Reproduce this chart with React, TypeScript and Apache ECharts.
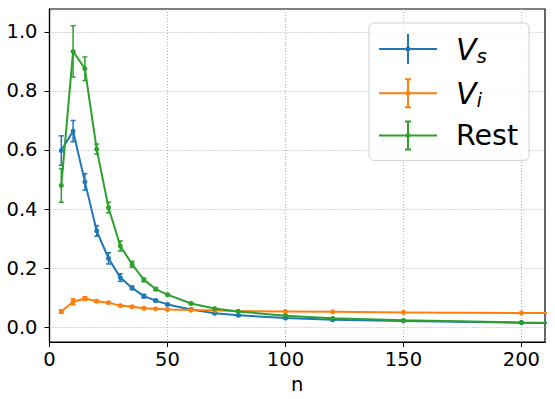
import { useEffect, useRef } from 'react';
import * as echarts from 'echarts';

const nValues = [5, 10, 15, 20, 25, 30, 35, 40, 45, 50, 60, 70, 80, 100, 120, 150, 200, 250];
const vsMean = [0.598, 0.664, 0.492, 0.326, 0.233, 0.168, 0.133, 0.105, 0.09, 0.077, 0.06, 0.047, 0.04, 0.031, 0.025, 0.021, 0.015, 0.011];
const vsErr = [0.05, 0.036, 0.028, 0.018, 0.019, 0.013, 0.006, 0.006, 0.004, 0.003, 0.003, 0.002, 0.002, 0.002, 0.002, 0.001, 0.001, 0.001];
const viMean = [0.053, 0.086, 0.097, 0.088, 0.083, 0.073, 0.069, 0.064, 0.062, 0.06, 0.058, 0.057, 0.054, 0.053, 0.052, 0.05, 0.048, 0.046];
const viErr = [0.006, 0.01, 0.006, 0.004, 0.003, 0.003, 0.003, 0.002, 0.002, 0.002, 0.002, 0.002, 0.001, 0.001, 0.001, 0.001, 0.001, 0.001];
const restMean = [0.48, 0.934, 0.875, 0.603, 0.405, 0.275, 0.213, 0.16, 0.129, 0.11, 0.08, 0.063, 0.053, 0.039, 0.03, 0.023, 0.016, 0.013];
const restErr = [0.057, 0.087, 0.04, 0.017, 0.018, 0.017, 0.01, 0.006, 0.005, 0.003, 0.003, 0.002, 0.002, 0.002, 0.001, 0.001, 0.001, 0.001];
const seriesNames = ['Vs', 'Vi', 'Rest'];
const colors = ['#1f77b4', '#ff7f0e', '#2ca02c'];
const xTicks = [0, 50, 100, 150, 200];
const yTicks = [0, 0.2, 0.4, 0.6, 0.8, 1.0];

const FONT = 'DejaVu Sans';
const TICK_FS = 19.5;

const iconNoCap = 'path://M0,14 h58 v2 h-58 z M28,0 h2 v30 h-2 z M27,13 h4 v4 h-4 z';
const iconCap = 'path://M0,14 h58 v2 h-58 z M28,1 h2 v28 h-2 z M26,0 h6 v2 h-6 z M26,28 h6 v2 h-6 z M27,13 h4 v4 h-4 z';

export default function App() {
  const ref = useRef<HTMLDivElement>(null);
  useEffect(() => {
    if (!ref.current) return;
    const chart = echarts.init(ref.current, undefined, { renderer: 'svg' });
    const means = [vsMean, viMean, restMean];
    const errs = [vsErr, viErr, restErr];
    const series: any[] = [];
    seriesNames.forEach((name, i) => {
      const color = colors[i];
      series.push({
        name,
        type: 'line',
        data: nValues.map((n, k) => [n, means[i][k]]),
        symbol: 'circle',
        symbolSize: 5,
        showSymbol: true,
        clip: true,
        lineStyle: { color, width: 2 },
        itemStyle: { color },
        emphasis: { disabled: true },
        z: 2 + i * 2,
      });
      series.push({
        name: name + ' err',
        type: 'custom',
        clip: true,
        data: nValues.map((n, k) => [n, means[i][k] - errs[i][k], means[i][k] + errs[i][k]]),
        renderItem: (params: any, api: any) => {
          const x = api.value(0);
          const top = api.coord([x, api.value(2)]);
          const bot = api.coord([x, api.value(1)]);
          const cw = 2.5;
          const style = { stroke: color, lineWidth: 1.5 };
          return {
            type: 'group',
            children: [
              { type: 'line', shape: { x1: top[0], y1: top[1], x2: bot[0], y2: bot[1] }, style },
              { type: 'line', shape: { x1: top[0] - cw, y1: top[1], x2: top[0] + cw, y2: top[1] }, style },
              { type: 'line', shape: { x1: bot[0] - cw, y1: bot[1], x2: bot[0] + cw, y2: bot[1] }, style },
            ],
          };
        },
        z: 3 + i * 2,
      });
    });

    chart.setOption({
      animation: false,
      textStyle: { fontFamily: FONT },
      grid: { left: 49.5, right: 10, top: 9, bottom: 55, show: true, borderColor: '#000', borderWidth: 1.2, backgroundColor: 'transparent' },
      legend: {
        orient: 'vertical',
        left: 369,
        top: 23,
        padding: [9, 11, 10, 10],
        itemWidth: 58,
        itemHeight: 30,
        itemGap: 10.2,
        borderColor: '#d0d0d0',
        borderWidth: 1,
        borderRadius: 5,
        backgroundColor: 'rgba(255,255,255,0.8)',
        selectedMode: false,
        data: [
          { name: 'Vs', icon: iconNoCap },
          { name: 'Vi', icon: iconCap },
          { name: 'Rest', icon: iconCap },
        ],
        formatter: (name: string) => {
          if (name === 'Vs') return '{v|V}{sub|s}';
          if (name === 'Vi') return '{v|V}{sub|i}';
          return '{r|' + name + '}';
        },
        textStyle: {
          fontFamily: FONT,
          color: '#000',
          padding: [0, 0, 0, 14],
          rich: {
            v: { fontFamily: FONT, fontStyle: 'italic', fontSize: 30, lineHeight: 30, color: '#000' },
            sub: { fontFamily: FONT, fontStyle: 'italic', fontSize: 20, lineHeight: 16, padding: [14, 0, 0, 0], color: '#000' },
            r: { fontFamily: FONT, fontSize: 28.5, lineHeight: 30, color: '#000' },
          },
        },
      },
      xAxis: {
        type: 'value',
        min: 0,
        max: 210,
        interval: 50,
        name: 'n',
        nameLocation: 'middle',
        nameGap: 31,
        nameTextStyle: { fontFamily: FONT, fontSize: TICK_FS, color: '#000' },
        axisLine: { show: true, onZero: false, lineStyle: { color: '#000', width: 1.2 } },
        axisTick: { show: true, inside: false, length: 5, lineStyle: { color: '#000' }, customValues: xTicks },
        axisLabel: { fontFamily: FONT, fontSize: TICK_FS, color: '#000', margin: 7, customValues: xTicks },
        splitLine: { show: true, lineStyle: { color: '#b0b0b0', type: [1, 2], width: 1 } },
      },
      yAxis: {
        type: 'value',
        min: -0.0506,
        max: 1.0775,
        axisLine: { show: true, onZero: false, lineStyle: { color: '#000', width: 1.2 } },
        axisTick: { show: true, inside: false, length: 5, lineStyle: { color: '#000' }, customValues: yTicks },
        axisLabel: {
          fontFamily: FONT,
          fontSize: TICK_FS,
          color: '#000',
          margin: 12,
          customValues: yTicks,
          formatter: (v: number) => v.toFixed(1),
        },
        splitLine: { show: true, lineStyle: { color: '#b0b0b0', type: [1, 2], width: 1 } },
      },
      series,
    });
    return () => chart.dispose();
  }, []);
  return <div ref={ref} style={{ width: 555, height: 399, position: 'absolute', left: 0, top: 0 }} />;
}
